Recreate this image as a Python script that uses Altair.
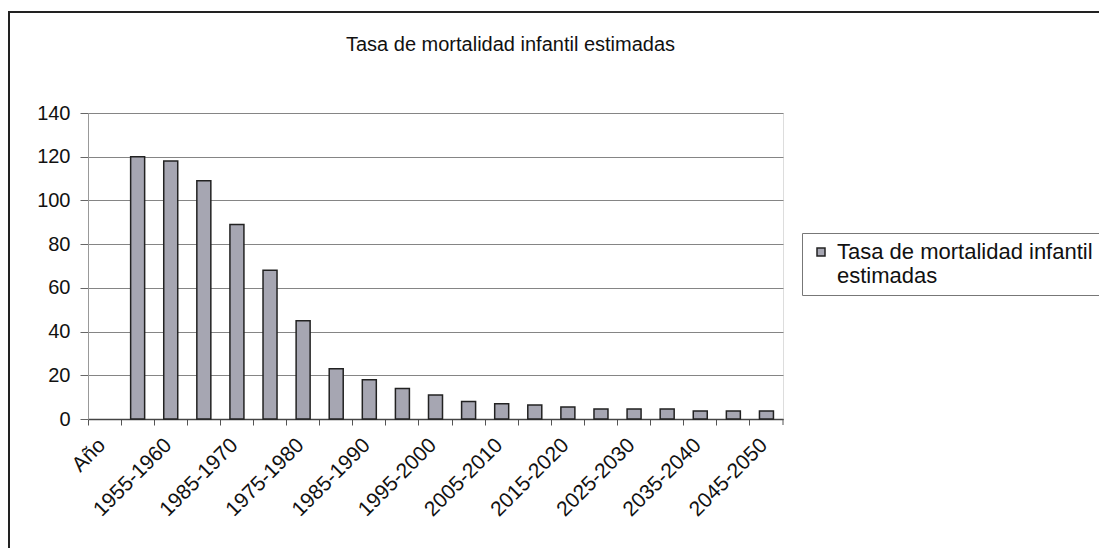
import altair as alt
import pandas as pd

# ---- data ----
categories = ["Año", "1950-1955", "1955-1960", "1960-1965", "1985-1970", "1970-1975",
              "1975-1980", "1980-1985", "1985-1990", "1990-1995", "1995-2000",
              "2000-2005", "2005-2010", "2010-2015", "2015-2020", "2020-2025",
              "2025-2030", "2030-2035", "2035-2040", "2040-2045", "2045-2050"]
values = [None, 120, 118, 109, 89, 68, 45, 23, 18, 14, 11, 8, 7, 6.4, 5.5,
          4.6, 4.6, 4.6, 3.7, 3.7, 3.7]
shown_labels = ["Año", "1955-1960", "1985-1970", "1975-1980", "1985-1990", "1995-2000",
                "2005-2010", "2015-2020", "2025-2030", "2035-2040", "2045-2050"]
y_ticks = [0, 20, 40, 60, 80, 100, 120, 140]
series_name = "Tasa de mortalidad infantil estimadas"
title_text = "Tasa de mortalidad infantil estimadas"

df = pd.DataFrame({"periodo": categories, "tasa": values, "serie": series_name})

FONT = "Liberation Sans"
W, H = 695, 306

label_list = "[" + ",".join("'" + s + "'" for s in shown_labels) + "]"

x_enc = alt.X(
    "periodo:N",
    sort=categories,
    scale=alt.Scale(domain=categories, paddingInner=0, paddingOuter=0),
    axis=alt.Axis(
        title=None,
        bandPosition=0,
        labelOffset=-10,
        labelExpr=f"indexof({label_list}, datum.value) >= 0 ? datum.label : ''",
        labelAngle=-45,
        labelFontSize=21,
        labelFont=FONT,
        labelColor="#111",
        labelOverlap=False,
        labelPadding=9,
        ticks=True,
        tickSize=6,
        tickColor="#555",
        domain=True,
        domainColor="#444",
        domainWidth=1.5,
        grid=False,
    ),
)

y_enc = alt.Y(
    "tasa:Q",
    scale=alt.Scale(domain=[0, 140], nice=False),
    axis=alt.Axis(
        title=None,
        values=y_ticks,
        labelFontSize=20,
        labelFont=FONT,
        labelColor="#111",
        labelPadding=10,
        tickSize=8,
        tickColor="#666",
        domain=True,
        domainColor="#999",
        grid=True,
        gridColor="#858585",
        gridWidth=1,
    ),
)

bars = alt.Chart(df).mark_bar(size=14, stroke="#222", strokeWidth=1.5).encode(
    x=x_enc,
    y=y_enc,
    color=alt.Color(
        "serie:N",
        scale=alt.Scale(range=["#a6a6b2"]),
        legend=alt.Legend(
            title=None,
            orient="none",
            legendX=714,
            legendY=120,
            symbolType="square",
            symbolSize=64,
            symbolStrokeColor="#222",
            symbolStrokeWidth=1.5,
            labelFontSize=22,
            labelFont=FONT,
            labelColor="#111",
            labelLimit=600,
            labelOffset=5,
            labelExpr="['Tasa de mortalidad infantil', 'estimadas']",
            strokeColor="#777",
            padding=8,
        ),
    ),
)

deco = pd.DataFrame({"k": [0]})
last_tick = alt.Chart(deco).mark_rule(color="#555", strokeWidth=1).encode(
    x=alt.value(W), y=alt.value(H), y2=alt.value(H + 6)
)
border_left = alt.Chart(deco).mark_rule(color="#222", strokeWidth=2).encode(
    x=alt.value(-79), y=alt.value(-101), y2=alt.value(450)
)
border_top = alt.Chart(deco).mark_rule(color="#222", strokeWidth=2).encode(
    x=alt.value(-80), x2=alt.value(1030), y=alt.value(-101)
)

chart = alt.layer(bars, last_tick, border_left, border_top).properties(
    width=W,
    height=H,
    title=alt.TitleParams(
        text=title_text,
        anchor="middle",
        frame="group",
        dx=75,
        offset=-44,
        fontSize=20,
        font=FONT,
        fontWeight="normal",
        color="#111",
    ),
    autosize=alt.AutoSizeParams(type="none"),
    padding={"left": 80, "top": 105, "right": 316, "bottom": 129},
).configure_view(
    fill="#c8c8d0", stroke="#aaaaaa"
).configure(background="white")

chart.save("out.html", embed_options={"renderer": "svg", "actions": False})
